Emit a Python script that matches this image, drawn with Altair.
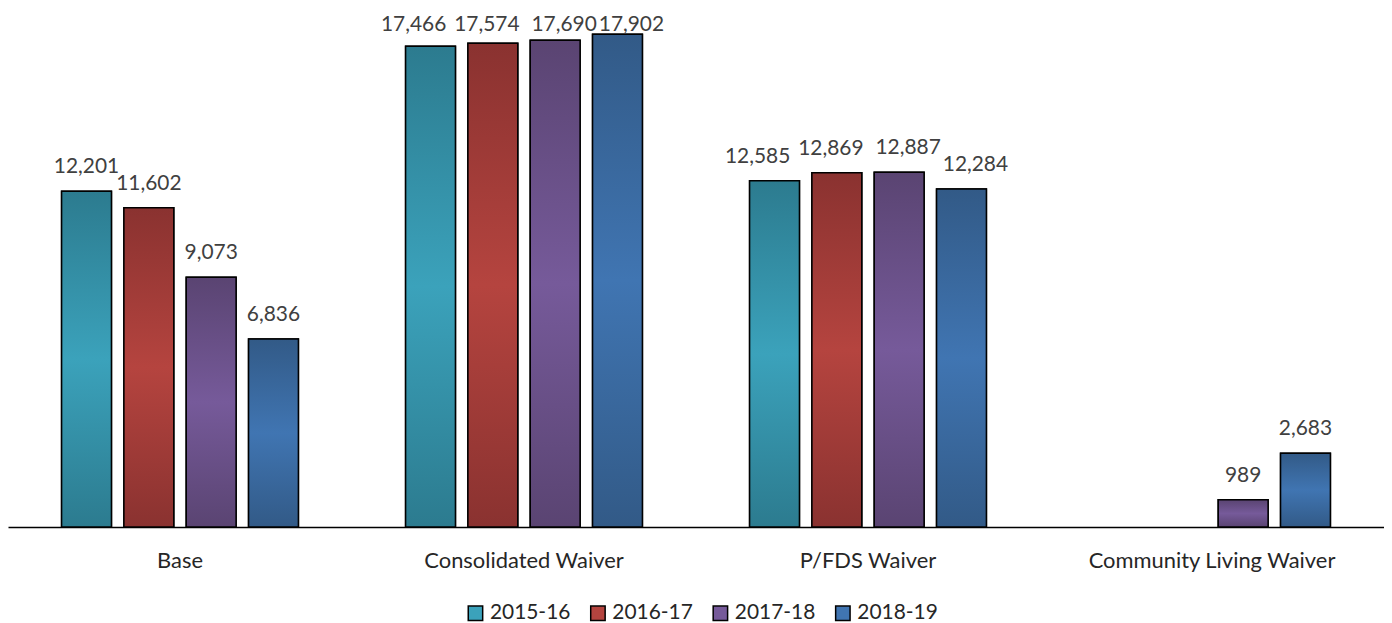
import altair as alt
import pandas as pd

categories = ["Base", "Consolidated Waiver", "P/FDS Waiver", "Community Living Waiver"]
series = ["2015-16", "2016-17", "2017-18", "2018-19"]
values = {
    "2015-16": [12201, 17466, 12585, None],
    "2016-17": [11602, 17574, 12869, None],
    "2017-18": [9073, 17690, 12887, 989],
    "2018-19": [6836, 17902, 12284, 2683],
}
# groups whose value labels are nudged apart (as Excel does to avoid overlap)
spread_groups = ["Consolidated Waiver", "P/FDS Waiver"]
mid_colors = ["#3ba2bb", "#b5443f", "#765a9a", "#4075b2"]
dark_colors = ["#2c7b8f", "#8a3230", "#5a4472", "#325a87"]
label_nudge = [-17, -6, 9, 14]

rows = []
for s in series:
    for c, v in zip(categories, values[s]):
        if v is not None:
            rows.append({"category": c, "series": s, "value": v,
                         "spread": c in spread_groups})
df = pd.DataFrame(rows)

FONT = "Lato"
Y_MAX = 18230
x_enc = alt.X("category:N", sort=categories, scale=alt.Scale(paddingInner=0, paddingOuter=0),
              axis=alt.Axis(title=None, labelAngle=0, ticks=False, grid=False,
                            domainColor="#000000", domainWidth=1.5, labelLimit=0,
                            labelFontSize=22, labelColor="#262626", labelFont=FONT,
                            labelPadding=24))
xo_enc = alt.XOffset("series:N", sort=series,
                     scale=alt.Scale(domain=series, paddingInner=0.2, paddingOuter=0.86))
y_scale = alt.Scale(domain=[0, Y_MAX], nice=False)
y_enc = alt.Y("value:Q", scale=y_scale, axis=None)

base = alt.Chart(df).encode(x=x_enc, xOffset=xo_enc, y=y_enc)

legend_layer = base.mark_bar(stroke="black", strokeWidth=1.5).encode(
    color=alt.Color("series:N", sort=series,
                    scale=alt.Scale(domain=series, range=mid_colors),
                    legend=alt.Legend(title=None, orient="none", direction="horizontal",
                                      legendX=459, legendY=580,
                                      symbolType="square", symbolSize=210,
                                      symbolStrokeColor="black", symbolStrokeWidth=1.5,
                                      symbolOpacity=1,
                                      labelFontSize=21, labelFont=FONT, labelColor="#262626",
                                      columnPadding=17, labelOffset=4))
)

layers = [legend_layer]
for s, mc, dc in zip(series, mid_colors, dark_colors):
    grad = alt.Gradient(
        gradient="linear",
        stops=[alt.GradientStop(color=dc, offset=0),
               alt.GradientStop(color=mc, offset=0.5),
               alt.GradientStop(color=dc, offset=1)],
        x1=0, x2=0, y1=0, y2=1,
    )
    layers.append(
        base.transform_filter(alt.datum.series == s)
        .mark_bar(fill=grad, stroke="black", strokeWidth=1.5)
    )

# labels are kept inside the chart area (clamped near the top, like Excel)
text_base = base.transform_calculate(label_y="min(datum.value, 17380)").encode(
    y=alt.Y("label_y:Q", scale=y_scale, axis=None),
    text=alt.Text("value:Q", format=","),
)
text_style = dict(baseline="bottom", dy=-14, fontSize=21, font=FONT, color="#404040")
layers.append(text_base.transform_filter("!datum.spread").mark_text(**text_style))
for s, d in zip(series, label_nudge):
    layers.append(
        text_base.transform_filter(f"datum.spread && datum.series == '{s}'")
        .mark_text(dx=d, **text_style)
    )

chart = alt.layer(*layers).properties(
    width=1382, height=504,
    autosize=alt.AutoSizeParams(type="none"),
    padding={"top": 16, "left": 0, "right": 0, "bottom": 95},
).configure_view(stroke=None)

chart.save("out.html", embed_options={"renderer": "svg", "actions": False})
